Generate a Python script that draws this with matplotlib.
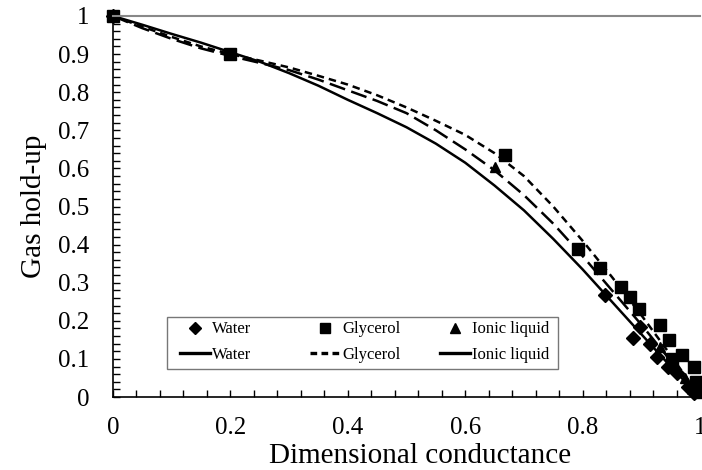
import matplotlib
matplotlib.use("Agg")
import matplotlib.pyplot as plt
from matplotlib.lines import Line2D
from matplotlib.patches import Rectangle
from matplotlib.ticker import MultipleLocator

# ---- data ----
water_x = [0, 0.838, 0.886, 0.897, 0.915, 0.926, 0.945, 0.960, 0.980, 0.99]
water_y = [1, 0.268, 0.155, 0.185, 0.14, 0.106, 0.08, 0.062, 0.027, 0.01]

gly_x = [0, 0.2, 0.667, 0.793, 0.830, 0.865, 0.881, 0.896, 0.932, 0.947, 0.953, 0.969, 0.990, 0.994, 0.997]
gly_y = [1, 0.9, 0.635, 0.388, 0.338, 0.288, 0.263, 0.230, 0.189, 0.150, 0.101, 0.110, 0.078, 0.040, 0.014]

ion_x = [0, 0.651, 0.932, 0.955, 0.975, 0.99]
ion_y = [1, 0.604, 0.132, 0.09, 0.05, 0.02]

curve_x = [0, 0.05, 0.1, 0.15, 0.2, 0.25, 0.3, 0.35, 0.4, 0.45, 0.5,
           0.55, 0.6, 0.65, 0.7, 0.75, 0.8, 0.85, 0.9, 0.95, 1.0]
water_fit = [1, 0.977, 0.953, 0.93, 0.905, 0.88, 0.85, 0.817, 0.78, 0.745, 0.708,
             0.665, 0.615, 0.555, 0.49, 0.415, 0.335, 0.25, 0.165, 0.08, 0.0]
ion_fit = [1, 0.968, 0.94, 0.915, 0.895, 0.877, 0.858, 0.833, 0.805, 0.777, 0.745,
           0.70, 0.65, 0.595, 0.53, 0.455, 0.37, 0.28, 0.19, 0.095, 0.0]
gly_fit = [1, 0.972, 0.945, 0.92, 0.9, 0.883, 0.865, 0.843, 0.82, 0.792, 0.76,
           0.725, 0.688, 0.64, 0.58, 0.50, 0.41, 0.315, 0.215, 0.11, 0.0]

xticks = [0, 0.2, 0.4, 0.6, 0.8, 1]
xticklabels = ["0", "0.2", "0.4", "0.6", "0.8", "1"]
yticks = [0, 0.1, 0.2, 0.3, 0.4, 0.5, 0.6, 0.7, 0.8, 0.9, 1]
yticklabels = ["0", "0.1", "0.2", "0.3", "0.4", "0.5", "0.6", "0.7", "0.8", "0.9", "1"]

legend_labels = ["Water", "Glycerol", "Ionic liquid"]

serif = "Liberation Serif"

W, H = 702, 470
fig = plt.figure(figsize=(W / 100, H / 100), dpi=100)
ax = fig.add_axes([113 / W, 1 - 397 / H, (700 - 113) / W, (397 - 16) / H])

lw = 1.8
ax.plot(curve_x, water_fit, color="black", lw=lw, ls="-")
ax.plot(curve_x, gly_fit, color="black", lw=lw, ls=(0, (3.0, 2.0)))
ax.plot(curve_x, ion_fit, color="black", lw=lw, ls=(0, (6.5, 2.6)))

ax.plot(water_x, water_y, ls="none", marker="D", ms=7, color="black", clip_on=False)
ax.plot(ion_x, ion_y, ls="none", marker="^", ms=7.5, color="black", clip_on=False)
ax.plot(gly_x, gly_y, ls="none", marker="s", ms=8.5, color="black", clip_on=False)

ax.set_xlim(0, 1)
ax.set_ylim(0, 1)
ax.set_xticks(xticks)
ax.set_xticklabels(xticklabels, fontfamily=serif, fontsize=18)
ax.set_yticks(yticks)
ax.set_yticklabels(yticklabels, fontfamily=serif, fontsize=18)
ax.xaxis.set_minor_locator(MultipleLocator(0.04))
ax.yaxis.set_minor_locator(MultipleLocator(0.02))
ax.tick_params(which="both", direction="in", length=5, width=1, color="black")
ax.tick_params(axis="x", which="major", pad=14.5)
ax.tick_params(axis="y", which="major", pad=17)

ax.spines["right"].set_visible(False)
ax.spines["top"].set_color("#888888")
ax.spines["top"].set_linewidth(1.5)
ax.spines["left"].set_linewidth(1.2)
ax.spines["bottom"].set_linewidth(1.2)

ax.set_xlabel("Dimensional conductance", fontfamily=serif, fontsize=21)
ax.xaxis.set_label_coords(0.523, -0.12)
ax.set_ylabel("Gas hold-up", fontfamily=serif, fontsize=21)
ax.yaxis.set_label_coords(-0.112, 0.5)

# legend: three equal-width columns, markers row above lines row
col_x = [180, 310, 440]
marker_handles = [
    Line2D([], [], ls="none", marker="D", ms=6, color="black"),
    Line2D([], [], ls="none", marker="s", ms=7, color="black"),
    Line2D([], [], ls="none", marker="^", ms=7, color="black"),
]
line_handles = [
    Line2D([], [], ls="-", lw=2.4, color="black"),
    Line2D([], [], ls=(0, (2.0, 1.3)), lw=2.4, color="black"),
    Line2D([], [], ls="-", lw=2.4, color="black"),
]
for i in range(3):
    lg = fig.legend([marker_handles[i], line_handles[i]],
                    [legend_labels[i], legend_labels[i]],
                    loc="center left", bbox_to_anchor=(col_x[i] / W, 1 - 342 / H),
                    frameon=False, prop={"family": serif, "size": 12},
                    handlelength=1.8, handletextpad=0.12, borderpad=0,
                    borderaxespad=0, labelspacing=0.56)
fig.patches.append(Rectangle((167 / W, 1 - 369 / H), (558 - 167) / W, (369 - 317) / H,
                             transform=fig.transFigure, fill=False,
                             edgecolor="#777777", lw=1.0))

fig.savefig("out.png", dpi=100)
